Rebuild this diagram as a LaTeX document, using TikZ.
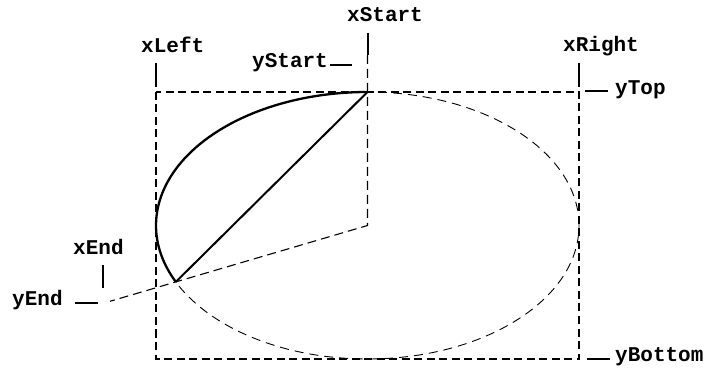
\documentclass[tikz,border=0pt]{standalone}
\usepackage{fontspec}
\setmonofont{Liberation Mono}
\usepackage{tikz}
\usetikzlibrary{calc}

\begin{document}
\begin{tikzpicture}[x=1pt, y=1pt,
  lbl/.style={anchor=base west, inner sep=0pt, font=\fontsize{21}{24}\selectfont\ttfamily\bfseries},
  tickline/.style={line width=2pt},
  boxline/.style={line width=1.6pt, dash pattern=on 8pt off 4.5pt},
  guideline/.style={line width=1.1pt, dash pattern=on 9pt off 5pt}]

% pixel frame 707 x 367, y measured upward
\useasboundingbox (0,0) rectangle (707,367);

%% ── bounding rectangle and centre ───────────────────────────────
\coordinate (lt) at (156,275);
\coordinate (rb) at (579,8);
\coordinate (ctr) at (367.5,141.5);
\coordinate (st) at (367.5,275);
\draw[boxline] (lt) rectangle (rb);

%% ── full ellipse (dashed) ───────────────────────────────────────
\draw[line width=0.9pt, dash pattern=on 9pt off 6pt] (ctr) ellipse[x radius=211.5pt, y radius=133.5pt];

%% ── arc from start to end, and its chord ────────────────────────
\draw[line width=2.3pt] (st) arc[start angle=90, end angle=205, x radius=211.5pt, y radius=133.5pt] coordinate (en);
\draw[line width=2pt] (en) -- (st);

%% ── radial guides ───────────────────────────────────────────────
\coordinate (xst) at (367.5,312);
\coordinate (ray) at ($(ctr)!1.343!(en)$);
\draw[guideline] (xst) -- (ctr) -- (ray);

%% ── labels with their ticks ─────────────────────────────────────
\node[lbl] (xleft) at (141,314) {xLeft};
\draw[tickline] (156,304) coordinate (xl1) -- (156,280) coordinate (xl2);

\node[lbl] (xstart) at (347,345) {xStart};
\draw[tickline] (367.5,334) coordinate (xs1) -- (xst);

\node[lbl] (ystart) at (252,299) {yStart};
\draw[tickline] (330,302) coordinate (ys1) -- (352,302) coordinate (ys2);

\node[lbl] (xright) at (563,315) {xRight};
\draw[tickline] (579,304) coordinate (xr1) -- (579,280) coordinate (xr2);

\node[lbl] (ytop) at (615,272) {yTop};
\draw[tickline] (585,276) coordinate (yt1) -- (608,276) coordinate (yt2);

\node[lbl] (ybottom) at (615,5.5) {yBottom};
\draw[tickline] (587,8) coordinate (yb1) -- (610,8) coordinate (yb2);

\node[lbl] (xend) at (73,112) {xEnd};
\draw[tickline] (103,102) coordinate (xe1) -- (103,79) coordinate (xe2);

\node[lbl] (yend) at (12,61) {yEnd};
\draw[tickline] (75,64) coordinate (ye1) -- (98,64) coordinate (ye2);

\end{tikzpicture}
\end{document}
